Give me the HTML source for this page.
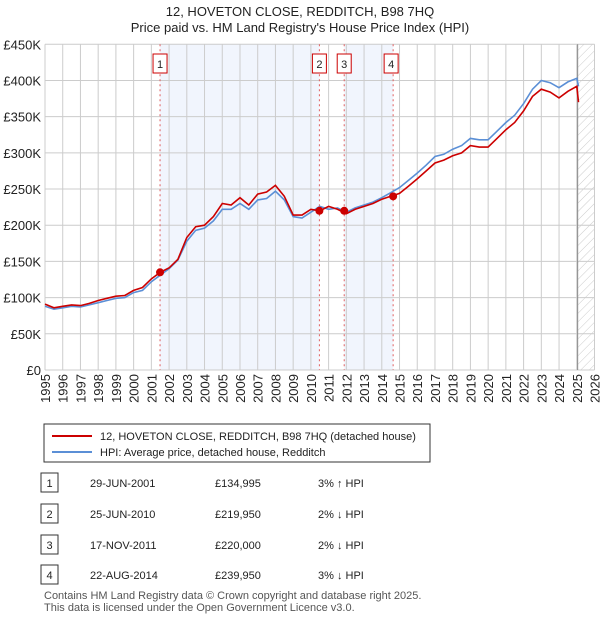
<!DOCTYPE html>
<html><head><meta charset="utf-8"><style>
body{margin:0;background:#fff;font-family:"Liberation Sans",sans-serif;}
svg text{font-family:"Liberation Sans",sans-serif;}
</style></head><body>
<svg width="600" height="620" xmlns="http://www.w3.org/2000/svg">
<defs><pattern id="hatch" width="6" height="6" patternUnits="userSpaceOnUse" patternTransform="rotate(45)"><line x1="0" y1="0" x2="0" y2="6" stroke="#ccc" stroke-width="1"/></pattern></defs>
<text x="300" y="16" text-anchor="middle" font-size="13" fill="#222">12, HOVETON CLOSE, REDDITCH, B98 7HQ</text>
<text x="300" y="32" text-anchor="middle" font-size="13" fill="#222">Price paid vs. HM Land Registry's House Price Index (HPI)</text>
<g id="plot"></g>
<g id="legend">
<rect x="44" y="424" width="386" height="38" fill="#fff" stroke="#333" stroke-width="1"/>
<line x1="52" y1="436" x2="92" y2="436" stroke="#cc0000" stroke-width="2"/>
<text x="100" y="440" font-size="11" fill="#222">12, HOVETON CLOSE, REDDITCH, B98 7HQ (detached house)</text>
<line x1="52" y1="452" x2="92" y2="452" stroke="#5b8fd6" stroke-width="2"/>
<text x="100" y="456" font-size="11" fill="#222">HPI: Average price, detached house, Redditch</text>
</g>
<g id="table"></g>
<text x="44" y="599" font-size="11" fill="#555">Contains HM Land Registry data © Crown copyright and database right 2025.</text>
<text x="44" y="611" font-size="11" fill="#555">This data is licensed under the Open Government Licence v3.0.</text>
</svg>
<script>
const dates=[1995,1995.5,1996,1996.5,1997,1997.5,1998,1998.5,1999,1999.5,2000,2000.5,2001,2001.5,2002,2002.5,2003,2003.5,2004,2004.5,2005,2005.5,2006,2006.5,2007,2007.5,2008,2008.5,2009,2009.5,2010,2010.5,2011,2011.5,2012,2012.5,2013,2013.5,2014,2014.5,2015,2015.5,2016,2016.5,2017,2017.5,2018,2018.5,2019,2019.5,2020,2020.5,2021,2021.5,2022,2022.5,2023,2023.5,2024,2024.5,2025,2025.1];
const hpi=[88,84,86,88,87,90,93,96,99,100,107,110,122,131,140,152,178,193,196,206,222,222,230,222,235,237,247,235,212,210,218,226,222,224,218,224,228,232,238,245,252,262,272,283,295,298,305,310,320,318,318,330,342,352,368,388,400,397,390,398,403,392];
const priceLine=[91,86,88,90,89,92,96,99,102,103,110,114,126,135,141,153,183,198,200,212,230,228,238,228,243,246,255,240,214,214,222,220,226,222,216,222,226,230,236,240,244,254,264,275,286,290,296,300,310,308,308,320,332,342,358,378,388,384,376,385,392,370];
const saleDates=[2001.49,2010.48,2011.88,2014.64];
const salePrices=[134995,219950,220000,239950];
const saleLabels=["1","2","3","4"];
const saleDateText=["29-JUN-2001","25-JUN-2010","17-NOV-2011","22-AUG-2014"];
const salePriceText=["£134,995","£219,950","£220,000","£239,950"];
const saleHpiText=["3% ↑ HPI","2% ↓ HPI","2% ↓ HPI","3% ↓ HPI"];
const yTicks=[0,50,100,150,200,250,300,350,400,450];
const yTickLabels=["£0","£50K","£100K","£150K","£200K","£250K","£300K","£350K","£400K","£450K"];
const xTicks=[1995,1996,1997,1998,1999,2000,2001,2002,2003,2004,2005,2006,2007,2008,2009,2010,2011,2012,2013,2014,2015,2016,2017,2018,2019,2020,2021,2022,2023,2024,2025,2026];
const X0=45,X1=594.5,Y0=370,Y1=44.3;
const x=v=>X0+(v-1995)/(2026-1995)*(X1-X0);
const y=v=>Y0-v/450*(Y0-Y1);
const NS="http://www.w3.org/2000/svg";
function mk(tag,attrs,parent){const e=document.createElementNS(NS,tag);for(const k in attrs)e.setAttribute(k,attrs[k]);parent.appendChild(e);return e;}
const g=document.getElementById('plot');
// shaded
const sh1=mk('rect',{x:x(saleDates[0]),y:Y1,width:x(saleDates[1])-x(saleDates[0]),height:Y0-Y1,fill:'#eef3fc',opacity:0.8},g);


const sh2=mk('rect',{x:x(saleDates[2]),y:Y1,width:x(saleDates[3])-x(saleDates[2]),height:Y0-Y1,fill:'#eef3fc',opacity:0.8},g);


const ht=mk('rect',{x:x(2025.05),y:Y1,width:X1-x(2025.05),height:Y0-Y1,fill:'url(#hatch)'},g);


yTicks.forEach((t,i)=>{
 mk('line',{x1:X0,x2:X1,y1:y(t),y2:y(t),stroke:'#ccc','stroke-width':1},g);
 const tx=mk('text',{x:X0-4,y:y(t)+5,'text-anchor':'end','font-size':13,fill:'#222'},g);
 tx.textContent=yTickLabels[i];
 
 
});
xTicks.forEach(t=>{
 mk('line',{x1:x(t),x2:x(t),y1:Y1,y2:Y0,stroke:'#ccc','stroke-width':1},g);
 const tx=mk('text',{transform:`translate(${x(t)+5},${Y0+4}) rotate(-90)`,'text-anchor':'end','font-size':13,fill:'#222'},g);
 tx.textContent=t;
 
 
});
mk('line',{x1:x(2025.05),x2:x(2025.05),y1:Y1,y2:Y0,stroke:'#888','stroke-width':1},g);
saleDates.forEach((d,i)=>{
 const l=mk('line',{x1:x(d),x2:x(d),y1:Y1,y2:Y0,stroke:'#e06060','stroke-width':1,'stroke-dasharray':'2,3'},g);
 
 
 const b=mk('rect',{x:x(d)-7-(i==3?2:0),y:54,width:14,height:19,fill:'#fff',stroke:'#cc0000','stroke-width':1},g);
 
 
 const t=mk('text',{x:x(d)-(i==3?2:0),y:68,'text-anchor':'middle','font-size':11,fill:'#222'},g);
 t.textContent=saleLabels[i];
});
const pts=a=>a.map((v,i)=>x(dates[i]).toFixed(1)+','+y(v).toFixed(1)).join(' ');
const hl=mk('polyline',{points:pts(hpi),fill:'none',stroke:'#5b8fd6','stroke-width':1.6},g);


const pl=mk('polyline',{points:pts(priceLine),fill:'none',stroke:'#cc0000','stroke-width':1.6},g);


saleDates.forEach((d,i)=>{
 const c=mk('circle',{cx:x(d),cy:y(salePrices[i]/1000),r:4,fill:'#cc0000'},g);
 
 
});
const tb=document.getElementById('table');
const rowY=[483,514,545,575];
saleLabels.forEach((s,i)=>{
 const r=mk('g',{},tb);
 
 
 mk('rect',{x:41,y:rowY[i]-10,width:17,height:19,fill:'#fff',stroke:'#333','stroke-width':1},r);
 const a=mk('text',{x:49.5,y:rowY[i]+4,'text-anchor':'middle','font-size':11,fill:'#222'},r);a.textContent=s;
 const b=mk('text',{x:90,y:rowY[i]+4,'font-size':11,fill:'#222'},r);b.textContent=saleDateText[i];
 const c=mk('text',{x:215,y:rowY[i]+4,'font-size':11,fill:'#222'},r);c.textContent=salePriceText[i];
 const e=mk('text',{x:318,y:rowY[i]+4,'font-size':11,fill:'#222'},r);e.textContent=saleHpiText[i];
});
</script>
</body></html>
